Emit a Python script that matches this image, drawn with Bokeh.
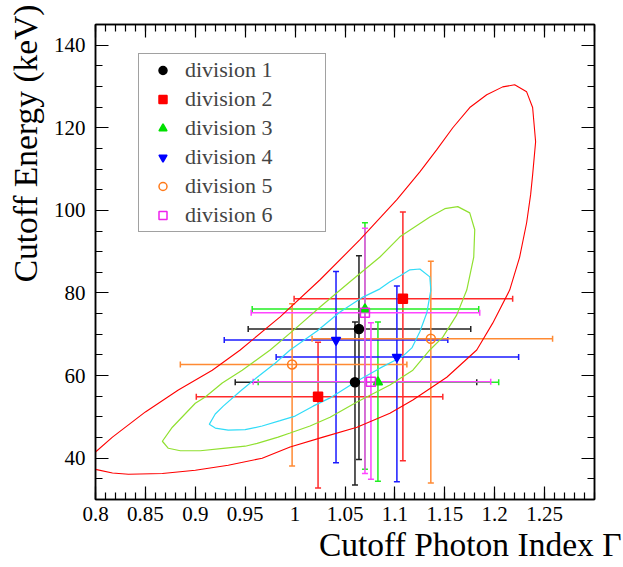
import numpy as np
from bokeh.plotting import figure
from bokeh.models import (ColumnDataSource, Whisker, TeeHead, Legend, LegendItem, Title,
                          LinearAxis, FixedTicker, Range1d)
from bokeh.embed import file_html
from bokeh.resources import INLINE

# ---------------- data ----------------
divisions = ["division 1", "division 2", "division 3", "division 4", "division 5", "division 6"]
markers = ["circle", "square", "triangle", "inverted_triangle", "circle", "square"]
marker_fill = ["black", "#ff0000", "#00e000", "#0000ff", None, None]
marker_line = ["black", "#ff0000", "#00e000", "#0000ff", "#ff7a1a", "#ee22ee"]
bar_colors = ["#222222", "#ff2a2a", "#22ee22", "#1a1aff", "#ff8a33", "#ff44ff"]

# two fits per division: photon index Gamma and cutoff energy with error ranges
gamma =    [[1.064, 1.060], [1.108, 1.023], [1.070, 1.083], [1.041, 1.102], [1.136, 0.997], [1.070, 1.076]]
gamma_lo = [[0.953, 0.940], [0.999, 0.901], [0.957, 0.963], [0.929, 0.981], [1.017, 0.885], [0.956, 0.958]]
gamma_hi = [[1.176, 1.182], [1.218, 1.148], [1.184, 1.204], [1.153, 1.224], [1.258, 1.112], [1.185, 1.196]]
ecut =     [[71.3, 58.4], [78.6, 54.9], [76.1, 58.4], [68.6, 64.5], [68.9, 62.7], [75.2, 58.5]]
ecut_lo =  [[39.7, 33.5], [39.4, 32.8], [37.3, 34.4], [38.9, 34.3], [34.0, 38.1], [36.3, 34.9]]
ecut_hi =  [[89.0, 73.0], [99.6, 68.1], [97.0, 73.0], [85.2, 81.7], [87.7, 77.4], [95.7, 72.8]]

# confidence contours (traced)
cyan_x = [0.914, 0.920, 0.933, 0.950, 0.967, 0.985, 1.000, 1.018, 1.035, 1.060, 1.085, 1.108,
          1.117, 1.125, 1.132, 1.136, 1.135, 1.125, 1.115, 1.105, 1.095, 1.085, 1.068, 1.045,
          1.022, 0.995, 0.980, 0.962, 0.945, 0.928, 0.920]
cyan_y = [48.2, 47.3, 46.8, 46.9, 47.8, 49.1, 50.2, 52.6, 54.6, 58.4, 61.8, 64.7,
          66.7, 70.6, 75.2, 80.7, 83.9, 85.8, 85.6, 84.1, 82.7, 81.0, 79.0, 75.4,
          70.8, 66.2, 63.0, 59.6, 56.2, 52.6, 50.7]
green_x = [0.867, 0.873, 0.885, 0.905, 0.928, 0.950, 0.962, 0.983, 0.995, 1.015, 1.035, 1.062,
           1.095, 1.118, 1.135, 1.148, 1.162, 1.172, 1.179, 1.180, 1.175, 1.163, 1.150, 1.135,
           1.105, 1.085, 1.055, 1.025, 1.000, 0.975, 0.947, 0.927, 0.910, 0.900, 0.877]
green_y = [44.1, 42.4, 41.8, 41.8, 42.4, 42.9, 43.6, 45.1, 46.1, 47.8, 49.9, 53.6,
           57.7, 61.3, 66.2, 69.3, 74.7, 80.7, 88.7, 95.3, 99.4, 100.9, 100.4, 98.4,
           93.6, 88.7, 82.7, 76.6, 71.3, 66.2, 61.3, 58.2, 54.8, 53.3, 47.5]
red_x = [0.800, 0.817, 0.833, 0.867, 0.900, 0.933, 0.967, 0.995, 1.028, 1.062, 1.095, 1.118,
         1.152, 1.182, 1.198, 1.215, 1.225, 1.232, 1.236, 1.238, 1.241, 1.238, 1.232, 1.220,
         1.208, 1.192, 1.175, 1.158, 1.142, 1.125, 1.102, 1.065, 1.025, 0.985, 0.945, 0.917,
         0.883, 0.850, 0.817, 0.800]
red_y = [37.3, 36.4, 36.1, 36.3, 37.1, 38.3, 40.0, 42.7, 45.1, 47.5, 50.9, 54.1,
         59.6, 66.2, 72.7, 80.7, 88.7, 97.0, 103.8, 108.6, 116.6, 124.9, 128.7, 130.4,
         129.9, 128.0, 124.9, 120.0, 114.7, 109.3, 102.6, 92.9, 83.2, 74.2, 66.2, 61.3,
         56.5, 51.2, 45.1, 41.5]

x_ticks = [0.8, 0.85, 0.9, 0.95, 1.0, 1.05, 1.1, 1.15, 1.2, 1.25]
x_tick_labels = ["0.8", "0.85", "0.9", "0.95", "1", "1.05", "1.1", "1.15", "1.2", "1.25"]
y_ticks = [40, 60, 80, 100, 120, 140]
y_tick_labels = ["40", "60", "80", "100", "120", "140"]

x_title = "Cutoff Photon Index \u0393"
y_title = "Cutoff Energy (keV)"

FONT = "'Liberation Serif', serif"

# ---------------- figure ----------------
p = figure(width=623, height=567, output_backend="svg", toolbar_location=None,
           x_range=Range1d(0.8, 1.3), y_range=Range1d(30, 145),
           min_border_left=95, min_border_right=29, min_border_top=24, min_border_bottom=68)
p.xgrid.visible = False
p.ygrid.visible = False
p.outline_line_color = "black"
p.outline_line_width = 1.5

x_minor = [round(v, 2) for v in np.arange(0.80, 1.3001, 0.01)]
y_minor = list(range(30, 146, 5))


def style_axis(ax, ticks, minor, labels, show):
    ax.ticker = FixedTicker(ticks=ticks, minor_ticks=minor)
    ax.axis_line_color = "black"
    ax.axis_line_width = 1.5
    ax.major_tick_in = 13
    ax.major_tick_out = 0
    ax.minor_tick_in = 7
    ax.minor_tick_out = 0
    ax.major_tick_line_color = "black"
    ax.minor_tick_line_color = "black"
    ax.major_tick_line_width = 1.2
    ax.minor_tick_line_width = 1.2
    if show:
        ax.major_label_overrides = dict(zip(ticks, labels))
        ax.major_label_text_font = FONT
        ax.major_label_text_font_size = "21px"
        ax.major_label_text_color = "black"
    else:
        ax.major_label_text_color = None
        ax.major_label_standoff = 0


style_axis(p.xaxis[0], x_ticks, x_minor, x_tick_labels, True)
p.xaxis[0].major_label_standoff = 7
style_axis(p.yaxis[0], y_ticks, y_minor, y_tick_labels, True)
p.yaxis[0].major_label_standoff = 10

top_axis = LinearAxis()
style_axis(top_axis, x_ticks, x_minor, x_tick_labels, False)
p.add_layout(top_axis, "above")
right_axis = LinearAxis()
style_axis(right_axis, y_ticks, y_minor, y_tick_labels, False)
p.add_layout(right_axis, "right")

# contours
p.line(red_x, red_y, line_color="#ff0000", line_width=1.1)
p.patch(green_x, green_y, fill_color=None, line_color="#90e030", line_width=1.2)
p.patch(cyan_x, cyan_y, fill_color=None, line_color="#30dcf8", line_width=1.2)

# error bars and points
renderers = []
for i in range(len(divisions)):
    src = ColumnDataSource(dict(x=gamma[i], y=ecut[i], xlo=gamma_lo[i], xhi=gamma_hi[i],
                                ylo=ecut_lo[i], yhi=ecut_hi[i]))
    c = bar_colors[i]
    for dim, base, lo, hi in (("height", "x", "ylo", "yhi"), ("width", "y", "xlo", "xhi")):
        w = Whisker(source=src, base=base, lower=lo, upper=hi, dimension=dim,
                    line_color=c, line_width=1.5,
                    lower_head=TeeHead(size=6, line_color=c, line_width=1.5),
                    upper_head=TeeHead(size=6, line_color=c, line_width=1.5))
        p.add_layout(w)
for i in range(len(divisions)):
    src = ColumnDataSource(dict(x=gamma[i], y=ecut[i]))
    r = p.scatter("x", "y", source=src, marker=markers[i], size=9,
                  fill_color=marker_fill[i], line_color=marker_line[i], line_width=1.5)
    renderers.append(r)

legend = Legend(items=[LegendItem(label=divisions[i], renderers=[renderers[i]])
                       for i in range(len(divisions))],
                location=(43, 267), label_text_font=FONT, label_text_font_size="22px",
                glyph_height=20, glyph_width=41, label_height=20, label_width=137,
                spacing=3, padding=3, margin=0, label_standoff=2,
                border_line_color="#444444", border_line_width=1.5,
                background_fill_color="white", background_fill_alpha=1.0)
p.add_layout(legend)

p.add_layout(Title(text=x_title, align="right", offset=-27, vertical_align="bottom",
                   standoff=0, text_font=FONT, text_font_size="33.5px",
                   text_font_style="normal", text_color="black"), "below")
p.add_layout(Title(text=y_title, align="right", offset=-20, vertical_align="top",
                   standoff=10, text_font=FONT, text_font_size="33.5px",
                   text_font_style="normal", text_color="black"), "left")

open("out.html", "w").write(file_html(p, INLINE))
